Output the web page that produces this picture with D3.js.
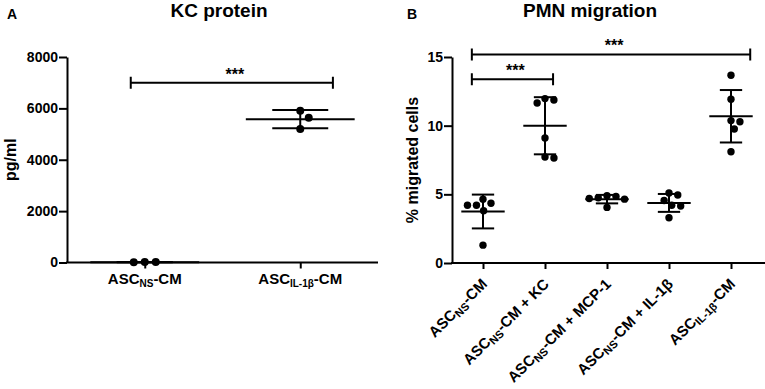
<!DOCTYPE html>
<html>
<head>
<meta charset="utf-8">
<script src="https://cdn.jsdelivr.net/npm/d3@7"></script>
<style>
  body { margin: 0; background: #fff; }
  svg { display: block; font-family: "Liberation Sans", Arial, sans-serif; }
</style>
</head>
<body>
<div id="chart"></div>
<script>
// Data - panel A (KC protein, pg/ml)
const kcLabels = [
  [["ASC", false], ["NS", true], ["-CM", false]],
  [["ASC", false], ["IL-1\u03b2", true], ["-CM", false]],
];
const kcValues = [
  [15, 5, 20],
  [5909, 5637, 5197],
];
const kcTicks = [0, 2000, 4000, 6000, 8000];
// bracket ends in category index units, height in data units
const kcBrackets = [{ from: -0.09, to: 1.21, y: 7000, label: "***" }];

// Data - panel B (PMN migration, % migrated cells)
const pmnLabels = [
  [["ASC", false], ["NS", true], ["-CM", false]],
  [["ASC", false], ["NS", true], ["-CM + KC", false]],
  [["ASC", false], ["NS", true], ["-CM + MCP-1", false]],
  [["ASC", false], ["NS", true], ["-CM + IL-1\u03b2", false]],
  [["ASC", false], ["IL-1\u03b2", true], ["-CM", false]],
];
const pmnValues = [
  [4.2, 4.35, 4.65, 4.2, 3.8, 1.3],
  [11.97, 11.65, 11.87, 9.1, 7.65, 7.72],
  [4.85, 4.05, 4.75, 4.7, 4.65, 4.9],
  [4.95, 5.1, 4.15, 4.55, 4.2, 3.3],
  [13.67, 11.92, 10.29, 10.37, 9.76, 8.1],
];
const pmnTicks = [0, 5, 10, 15];
const pmnBrackets = [
  { from: -0.18, to: 4.31, y: 15.19, label: "***" },
  { from: -0.18, to: 1.13, y: 13.38, label: "***" },
];

// Dimensions
const dimensions = { width: 765, height: 389 };

const svg = d3
  .select("#chart")
  .append("svg")
  .attr("width", dimensions.width)
  .attr("height", dimensions.height);

// simple beeswarm so points with close values sit side by side
function swarm(vals, yScale, cx, gap) {
  const placed = [];
  const order = vals.map((v, i) => i).sort((a, b) => vals[b] - vals[a]);
  order.forEach((i) => {
    const y = yScale(vals[i]);
    const cands = [0];
    placed.forEach((p) => {
      const dy = Math.abs(p.y - y);
      if (dy < gap) {
        const dx = Math.sqrt(gap * gap - dy * dy);
        cands.push(p.dx + dx, p.dx - dx);
      }
    });
    cands.sort((a, b) => Math.abs(a) - Math.abs(b) || b - a);
    const dx = cands.find((c) =>
      placed.every((p) => (p.dx - c) ** 2 + (p.y - y) ** 2 >= gap * gap - 0.01)
    );
    placed.push({ dx, y });
  });
  return placed.map((p) => ({ x: cx + p.dx, y: p.y }));
}

function addParts(text, parts, subSize) {
  parts.forEach(([t, sub], i) => {
    const ts = text.append("tspan").text(t);
    if (sub) ts.attr("font-size", subSize).attr("dy", 3);
    else if (i > 0 && parts[i - 1][1]) ts.attr("dy", -3);
  });
}

function drawPanel(p) {
  const g = svg.append("g");

  const xScale = d3
    .scalePoint()
    .domain(p.labels.map((d, i) => i))
    .range(p.xRange)
    .padding(0.5);
  const step = xScale.step();
  const idxScale = d3
    .scaleLinear()
    .domain([0, 1])
    .range([xScale(0), xScale(0) + step]);

  const yScale = d3.scaleLinear().domain(p.yDomain).range(p.yRange);

  // Axes
  const yAxis = d3
    .axisLeft(yScale)
    .tickValues(p.ticks)
    .tickFormat(d3.format("d"))
    .tickSize(8)
    .tickSizeOuter(0)
    .tickPadding(1);
  const yAxisGroup = g
    .append("g")
    .attr("transform", `translate(${p.xRange[0]},0)`)
    .call(yAxis)
    .attr("font-size", 14)
    .attr("font-weight", "bold")
    .attr("font-family", null);
  yAxisGroup.selectAll("path, line").attr("stroke", "#000").attr("stroke-width", 2);
  yAxisGroup.selectAll("text").attr("fill", "#000");

  const xAxis = d3.axisBottom(xScale).tickSize(6).tickSizeOuter(0).tickFormat("");
  const xAxisGroup = g
    .append("g")
    .attr("transform", `translate(0,${p.yRange[0]})`)
    .call(xAxis);
  xAxisGroup.select(".domain").remove();
  xAxisGroup.selectAll("line").attr("stroke", "#000").attr("stroke-width", 2);
  xAxisGroup
    .append("line")
    .attr("x1", p.xRange[0] - 1)
    .attr("x2", p.xEnd)
    .attr("stroke", "#000")
    .attr("stroke-width", 2);

  // category labels
  p.labels.forEach((parts, i) => {
    const t = g
      .append("text")
      .attr("font-weight", "bold")
      .attr("font-size", p.labelSize)
      .attr("fill", "#000");
    if (p.rotate) {
      t.attr("text-anchor", "end").attr(
        "transform",
        `translate(${xScale(i) + 5},${p.yRange[0] + 22}) rotate(-45)`
      );
    } else {
      t.attr("text-anchor", "middle")
        .attr("x", xScale(i))
        .attr("y", p.yRange[0] + 21);
    }
    addParts(t, parts, p.subSize);
  });

  // mean and SD
  const meanW = step * 0.7;
  const capW = step * 0.36;
  p.values.forEach((vals, i) => {
    const cx = xScale(i);
    const m = d3.mean(vals);
    const sd = d3.deviation(vals);
    const lines = [
      [cx, yScale(m + sd), cx, yScale(m - sd)],
      [cx - meanW / 2, yScale(m), cx + meanW / 2, yScale(m)],
      [cx - capW / 2, yScale(m + sd), cx + capW / 2, yScale(m + sd)],
      [cx - capW / 2, yScale(m - sd), cx + capW / 2, yScale(m - sd)],
    ];
    g.selectAll(null)
      .data(lines)
      .join("line")
      .attr("x1", (d) => d[0])
      .attr("y1", (d) => d[1])
      .attr("x2", (d) => d[2])
      .attr("y2", (d) => d[3])
      .attr("stroke", "#000")
      .attr("stroke-width", 2);

    // points
    g.selectAll(null)
      .data(swarm(vals, yScale, cx, p.gap))
      .join("circle")
      .attr("cx", (d) => d.x)
      .attr("cy", (d) => d.y)
      .attr("r", p.r)
      .attr("fill", "#000");
  });

  // significance brackets
  p.brackets.forEach((b) => {
    const x1 = idxScale(b.from);
    const x2 = idxScale(b.to);
    const y = yScale(b.y);
    const path = `M${x1},${y - 6}V${y + 6}M${x1},${y}H${x2}M${x2},${y - 6}V${y + 6}`;
    g.append("path")
      .attr("d", path)
      .attr("fill", "none")
      .attr("stroke", "#000")
      .attr("stroke-width", 2);
    g.append("text")
      .attr("x", (x1 + x2) / 2 + 3)
      .attr("y", y - 3)
      .attr("text-anchor", "middle")
      .attr("font-size", 16)
      .attr("font-weight", "bold")
      .text(b.label);
  });

  // title, panel letter, y label
  g.append("text")
    .attr("x", p.titleX)
    .attr("y", 17)
    .attr("text-anchor", "middle")
    .attr("font-size", 19)
    .attr("font-weight", "bold")
    .text(p.title);
  g.append("text")
    .attr("x", p.letterX)
    .attr("y", 19)
    .attr("font-size", 14)
    .attr("font-weight", "bold")
    .text(p.letter);
  g.append("text")
    .attr("transform", `translate(${p.yLabelX},${(p.yRange[0] + p.yRange[1]) / 2}) rotate(-90)`)
    .attr("text-anchor", "middle")
    .attr("font-size", 16)
    .attr("font-weight", "bold")
    .text(p.yLabel);
}

drawPanel({
  labels: kcLabels,
  values: kcValues,
  ticks: kcTicks,
  brackets: kcBrackets,
  xRange: [67, 378],
  xEnd: 378,
  yDomain: [0, 8000],
  yRange: [262.5, 57],
  rotate: false,
  labelSize: 15,
  subSize: 10,
  r: 4,
  gap: 11,
  title: "KC protein",
  titleX: 219,
  letter: "A",
  letterX: 7,
  yLabel: "pg/ml",
  yLabelX: 16,
});

drawPanel({
  labels: pmnLabels,
  values: pmnValues,
  ticks: pmnTicks,
  brackets: pmnBrackets,
  xRange: [452, 762],
  xEnd: 765,
  yDomain: [0, 15],
  yRange: [263, 57],
  rotate: true,
  labelSize: 15,
  subSize: 11,
  r: 3.7,
  gap: 9,
  title: "PMN migration",
  titleX: 590,
  letter: "B",
  letterX: 407,
  yLabel: "% migrated cells",
  yLabelX: 418,
});
</script>
</body>
</html>
